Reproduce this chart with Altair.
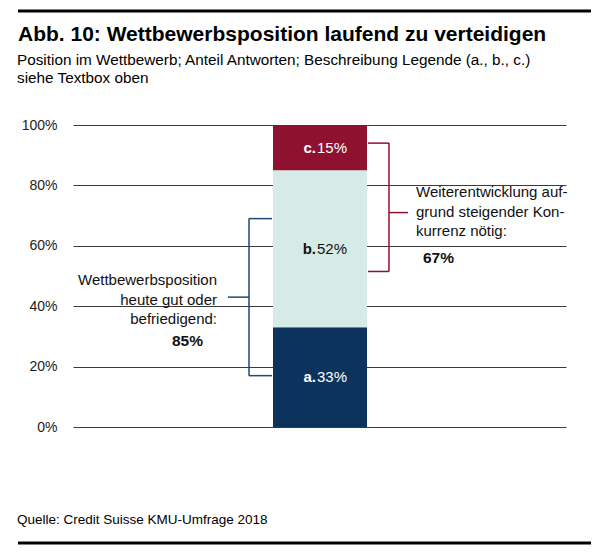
import altair as alt
import pandas as pd

# ---- data ----
categories = ["a.", "b.", "c."]
values = [33, 52, 15]
seg_colors = ["#0c335c", "#d6ebe6", "#8e1230"]
text_colors = ["#ffffff", "#111111", "#ffffff"]
y_ticks = [0, 20, 40, 60, 80, 100]

red_bracket = [94, 71, 51.5]     # top, middle, bottom (y data units)
blue_bracket = [69, 43, 17]
right_note_lines = ["Weiterentwicklung auf-", "grund steigender Kon-", "kurrenz nötig:"]
right_note_total = "67%"
right_note_y = [77.7, 55.8]
left_note_lines = ["Wettbewerbsposition", "heute gut oder", "befriedigend:"]
left_note_total = "85%"
left_note_y = [48.6, 28.4]

title = "Abb. 10: Wettbewerbsposition laufend zu verteidigen"
subtitle = ["Position im Wettbewerb; Anteil Antworten; Beschreibung Legende (a., b., c.)",
            "siehe Textbox oben"]
source = "Quelle: Credit Suisse KMU-Umfrage 2018"

FONT = "Liberation Sans"
RED = "#8e1230"
BLUE = "#1c4a74"
DOM = [0, 100]

# ---- table ----
ends = pd.Series(values).cumsum()
df = pd.DataFrame({
    "cat": categories,
    "val": values,
    "start": ends - pd.Series(values),
    "end": ends,
    "tcol": text_colors,
})
df["mid"] = (df["start"] + df["end"]) / 2
df["vlabel"] = df["val"].astype(str) + "%"

ysc = alt.Scale(domain=DOM)
yax = alt.Axis(values=y_ticks, labelExpr="datum.value + '%'", title=None,
               grid=True, ticks=False, domain=False)


def Y(field):
    return alt.Y(field, scale=ysc, axis=yax, title=None)


bars = alt.Chart(df).mark_rect().encode(
    x=alt.value(200), x2=alt.value(294),
    y=Y("start:Q"),
    y2="end:Q",
    color=alt.Color("cat:N", scale=alt.Scale(domain=categories, range=seg_colors), legend=None),
)

letters = alt.Chart(df).mark_text(align="right", baseline="middle", font=FONT,
                                  fontSize=15, fontWeight="bold").encode(
    x=alt.value(243), y=Y("mid:Q"),
    text="cat:N", color=alt.Color("tcol:N", scale=None),
)
vals = alt.Chart(df).mark_text(align="left", baseline="middle", font=FONT,
                               fontSize=15).encode(
    x=alt.value(244), y=Y("mid:Q"),
    text="vlabel:N", color=alt.Color("tcol:N", scale=None),
)


def bracket(v, vx, x_bar, x_mid, color):
    d = pd.DataFrame({"top": [v[0]], "mid": [v[1]], "bot": [v[2]]})
    base = alt.Chart(d)
    kw = dict(color=color, strokeWidth=1.5)
    vert = base.mark_rule(**kw).encode(x=alt.value(vx), y=Y("top:Q"), y2="bot:Q")
    top = base.mark_rule(**kw).encode(x=alt.value(x_bar), x2=alt.value(vx), y=Y("top:Q"))
    bot = base.mark_rule(**kw).encode(x=alt.value(x_bar), x2=alt.value(vx), y=Y("bot:Q"))
    mid = base.mark_rule(**kw).encode(x=alt.value(vx), x2=alt.value(x_mid), y=Y("mid:Q"))
    return [vert, top, bot, mid]


one = pd.DataFrame({"k": [0]})


def note(lines, yv, x, align, bold=False, size=15):
    return alt.Chart(one).mark_text(text=lines, align=align, baseline="middle", font=FONT,
                                    fontSize=size, lineHeight=19.5, color="#111111",
                                    fontWeight="bold" if bold else "normal").encode(
        x=alt.value(x), y=alt.YDatum(yv, scale=ysc, axis=yax, title=None))


def px_text(lines, x, y, size, bold=False, lh=18):
    return alt.Chart(one).mark_text(text=lines, align="left", baseline="alphabetic", font=FONT,
                                    fontSize=size, lineHeight=lh, color="#000000",
                                    fontWeight="bold" if bold else "normal").encode(
        x=alt.value(x), y=alt.value(y))


def hrule(y):
    return alt.Chart(one).mark_rule(color="#000000", strokeWidth=3).encode(
        x=alt.value(-55), x2=alt.value(518), y=alt.value(y))


layers = [bars, letters, vals]
layers += bracket(red_bracket, 316, 295, 335, RED)
layers += bracket(blue_bracket, 176, 199, 155, BLUE)
layers += [
    note(right_note_lines, right_note_y[0], 343, "left"),
    note(right_note_total, right_note_y[1], 350, "left", bold=True, size=15.5),
    note(left_note_lines, left_note_y[0], 144, "right"),
    note(left_note_total, left_note_y[1], 99, "left", bold=True, size=15.5),
    hrule(-114),
    px_text(title, -55, -84, 21, bold=True),
    px_text(subtitle, -56, -60, 15.3, lh=18),
    px_text(source, -56, 399, 13.5),
    hrule(418),
]

chart = alt.layer(*layers).properties(
    width=493, height=302,
    autosize=alt.AutoSizeParams(type="none"),
    padding={"left": 65, "top": 117, "right": 36, "bottom": 120},
).configure_view(stroke=None).configure_axis(
    labelFont=FONT, labelFontSize=14, labelColor="#222222", labelPadding=16,
    gridColor="#3a3a3a", gridWidth=1, gridOpacity=1,
)

chart.save("out.html", embed_options={"renderer": "svg", "actions": False})
